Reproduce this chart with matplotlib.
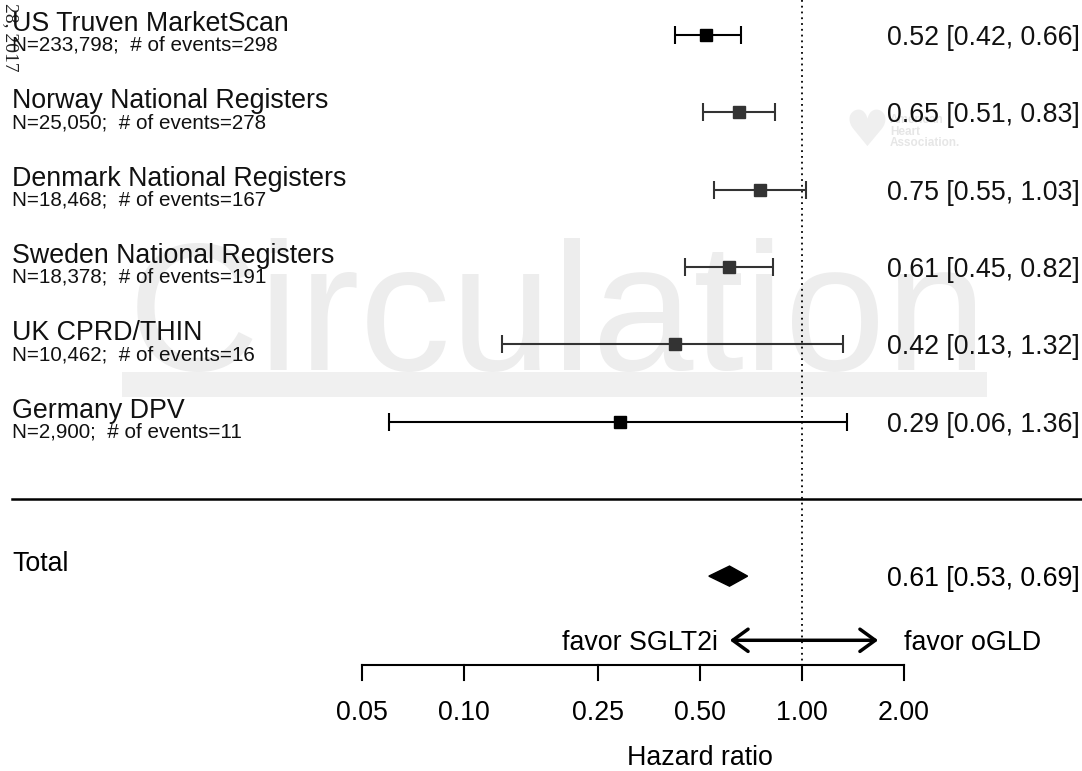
import numpy as np
import matplotlib
matplotlib.use('Agg')
import matplotlib.pyplot as plt
from matplotlib.patches import Rectangle, FancyArrowPatch

plt.rcParams['font.family'] = ['Liberation Sans', 'DejaVu Sans']

# study-level hazard ratios with 95% CI
studies = ['US Truven MarketScan', 'Norway National Registers', 'Denmark National Registers',
           'Sweden National Registers', 'UK CPRD/THIN', 'Germany DPV']
n_patients = ['233,798', '25,050', '18,468', '18,378', '10,462', '2,900']
n_events = [298, 278, 167, 191, 16, 11]
hr = [0.52, 0.65, 0.75, 0.61, 0.42, 0.29]
ci_lo = [0.42, 0.51, 0.55, 0.45, 0.13, 0.06]
ci_hi = [0.66, 0.83, 1.03, 0.82, 1.32, 1.36]
box_colors = ['#000000', '#333333', '#333333', '#333333', '#333333', '#000000']

# pooled estimate
total_hr, total_lo, total_hi = 0.61, 0.53, 0.69

xticks = [0.05, 0.10, 0.25, 0.50, 1.00, 2.00]

fig = plt.figure(figsize=(10.82, 7.71), dpi=100)
ax = fig.add_axes([0, 0, 1, 1])
ax.set_xscale('log')
ax.set_xlim(0.004255, 6.72)
ax.set_ylim(9.521, -0.453)
ax.axis('off')

ytr = ax.get_yaxis_transform()
fs = 19.3

# background watermark
ax.text(128 / 1082, 4.334, 'Circulation', transform=ytr, fontsize=131, color='#ededed',
        ha='left', va='baseline', zorder=0)
ax.add_patch(Rectangle((122 / 1082, 4.36), 865 / 1082, 0.32, transform=ytr,
                       facecolor='#f0f0f0', edgecolor='none', zorder=0))
ax.text(867 / 1082, 1.25, '\u2665', transform=ytr, fontsize=36, color='#efefef',
        ha='center', va='center', family=['DejaVu Sans'], zorder=0)
ax.text(890 / 1082, 1.25, 'American\nHeart\nAssociation.', transform=ytr, fontsize=8.5,
        fontweight='bold', color='#e6e6e6', ha='left', va='center', linespacing=0.95, zorder=0)
ax.text(10 / 1082, -0.41, '28, 2017', transform=ytr, fontsize=14, rotation=-90,
        family=['Liberation Serif'], color='#222222', ha='center', va='top', zorder=1)

rows = np.arange(len(studies))

# reference line at HR = 1
ax.plot([1, 1], [-0.453, 8.15], color='black', lw=1.3, ls=(0, (1, 2.2)), zorder=2)

for i in rows:
    ax.errorbar(hr[i], i, xerr=[[hr[i] - ci_lo[i]], [ci_hi[i] - hr[i]]], fmt='s',
                color=box_colors[i], ecolor=box_colors[i], elinewidth=1.5, capsize=6.5,
                capthick=1.5, markersize=8, zorder=3)
    ax.text(12 / 1082, i - 0.05, studies[i], transform=ytr, fontsize=fs,
            ha='left', va='baseline', color='#111111', zorder=4)
    ax.text(12 / 1082, i + 0.205, f'N={n_patients[i]};  # of events={n_events[i]}',
            transform=ytr, fontsize=14.9, ha='left', va='baseline', color='#111111', zorder=4)
    ax.text(1080 / 1082, i, f'{hr[i]:.2f} [{ci_lo[i]:.2f}, {ci_hi[i]:.2f}]',
            transform=ytr, fontsize=fs, ha='right', va='center_baseline', color='#111111', zorder=4)

# separator
ax.plot([12 / 1082, 1], [6, 6], transform=ytr, color='black', lw=1.8, zorder=2)

# pooled diamond
ty = 7
ax.fill([total_lo, total_hr, total_hi, total_hr], [ty, ty - 0.13, ty, ty + 0.13],
        color='black', zorder=3)
ax.text(12 / 1082, ty - 0.07, 'Total', transform=ytr, fontsize=fs, ha='left', va='baseline')
ax.text(1080 / 1082, ty, f'{total_hr:.2f} [{total_lo:.2f}, {total_hi:.2f}]',
        transform=ytr, fontsize=fs, ha='right', va='center_baseline')

# direction arrow
ay = 7.83
ax.add_patch(FancyArrowPatch((0.60, ay), (1.71, ay), arrowstyle='<->,head_length=0.55,head_width=0.4',
                             mutation_scale=20, lw=2.5, color='black', zorder=3))
ax.text(0.565, ay, 'favor SGLT2i', fontsize=fs, ha='right', va='center_baseline')
ax.text(2.0, ay, 'favor oGLD', fontsize=fs, ha='left', va='center_baseline')

# x axis
axis_y = 8.15
ax.plot([xticks[0], xticks[-1]], [axis_y, axis_y], color='black', lw=1.5, zorder=2)
for t in xticks:
    ax.plot([t, t], [axis_y, axis_y + 0.2], color='black', lw=1.5, zorder=2)
    ax.text(t, 8.73, f'{t:.2f}', fontsize=fs, ha='center', va='center_baseline')
ax.text(np.sqrt(xticks[0] * xticks[-1]) * 1.58, 9.32, 'Hazard ratio', fontsize=fs,
        ha='center', va='center_baseline')

fig.savefig('out.png', dpi=100)
